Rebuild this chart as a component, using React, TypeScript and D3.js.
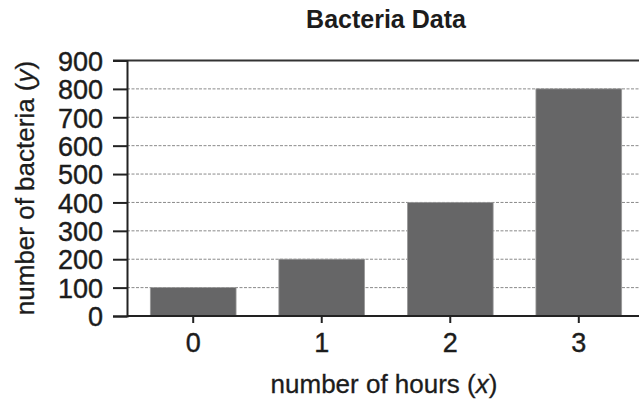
import { useEffect, useRef } from "react";
import * as d3 from "d3";

const hours = ["0", "1", "2", "3"];
const bacteria = [100, 200, 400, 800];
const yTicks = [0, 100, 200, 300, 400, 500, 600, 700, 800, 900];

export default function App() {
    const svgRef = useRef<SVGSVGElement | null>(null);

    useEffect(() => {
        if (!svgRef.current) return;
        const width = 639;
        const m = { left: 127, top: 60.5, bottom: 316, right: 643 };
        const svg = d3.select(svgRef.current);
        svg.selectAll("*").remove();

        const font = "'Liberation Sans', Arial, sans-serif";
        const ink = "#1c1c1c";

        const x = d3.scaleBand<string>()
            .domain(hours)
            .range([m.left + 2, m.right])
            .paddingInner(0.333)
            .paddingOuter(0.166);

        const y = d3.scaleLinear()
            .domain([0, 900])
            .range([m.bottom, m.top]);

        // dashed gridlines
        svg.append("g")
            .selectAll("line")
            .data(yTicks.filter(t => t > 0 && t < 900))
            .join("line")
            .attr("x1", m.left)
            .attr("x2", width)
            .attr("y1", d => y(d))
            .attr("y2", d => y(d))
            .attr("stroke", "#8a8a8a")
            .attr("stroke-width", 1)
            .attr("stroke-dasharray", "3,1.5");

        // bars
        svg.append("g")
            .selectAll("rect")
            .data(bacteria)
            .join("rect")
            .attr("x", (_, i) => x(hours[i])!)
            .attr("y", d => y(d))
            .attr("width", x.bandwidth())
            .attr("height", d => y(0) - y(d))
            .attr("fill", "#666667")
            .attr("stroke", "#9a9a9a")
            .attr("stroke-width", 0.8);

        // top border
        svg.append("line")
            .attr("x1", m.left - 14).attr("x2", width)
            .attr("y1", y(900)).attr("y2", y(900))
            .attr("stroke", "#333").attr("stroke-width", 2);

        // y axis
        const yAxis = svg.append("g")
            .attr("transform", `translate(${m.left},0)`)
            .call(d3.axisLeft(y).tickValues(yTicks).tickSize(14).tickPadding(10));
        yAxis.select(".domain").attr("stroke", "#222").attr("stroke-width", 2);
        yAxis.selectAll(".tick line").attr("stroke", "#222").attr("stroke-width", 2);
        yAxis.selectAll("text")
            .attr("font-family", font)
            .attr("font-size", 27)
            .attr("fill", ink)
            .attr("stroke", ink)
            .attr("stroke-width", 0.4)
            .attr("dy", "0.36em");

        // x axis
        const xAxis = svg.append("g")
            .attr("transform", `translate(0,${m.bottom})`)
            .call(d3.axisBottom(x).tickSize(7).tickPadding(10));
        xAxis.select(".domain").remove();
        xAxis.append("line")
            .attr("x1", m.left).attr("x2", width)
            .attr("stroke", "#222").attr("stroke-width", 2);
        xAxis.selectAll(".tick line").attr("stroke", "#222").attr("stroke-width", 2);
        xAxis.selectAll("text")
            .attr("font-family", font)
            .attr("font-size", 27)
            .attr("fill", ink)
            .attr("stroke", ink)
            .attr("stroke-width", 0.4);

        // title
        svg.append("text")
            .attr("x", 386).attr("y", 28)
            .attr("text-anchor", "middle")
            .attr("font-family", font)
            .attr("font-weight", "bold")
            .attr("font-size", 25)
            .attr("fill", ink)
            .text("Bacteria Data");

        // x label
        const xl = svg.append("text")
            .attr("x", 384).attr("y", 393)
            .attr("text-anchor", "middle")
            .attr("font-family", font)
            .attr("font-size", 26)
            .attr("fill", ink)
            .attr("stroke", ink)
            .attr("stroke-width", 0.3);
        xl.append("tspan").text("number of hours (");
        xl.append("tspan").attr("font-style", "italic").text("x");
        xl.append("tspan").text(")");

        // y label
        const yl = svg.append("text")
            .attr("transform", `translate(34,188) rotate(-90)`)
            .attr("text-anchor", "middle")
            .attr("font-family", font)
            .attr("font-size", 26)
            .attr("fill", ink)
            .attr("stroke", ink)
            .attr("stroke-width", 0.3);
        yl.append("tspan").text("number of bacteria (");
        yl.append("tspan").attr("font-style", "italic").text("y");
        yl.append("tspan").text(")");
    }, []);

    return (
        <svg
            ref={svgRef}
            width={639}
            height={402}
            style={{ position: "absolute", left: 0, top: 0, background: "#fff" }}
        />
    );
}
